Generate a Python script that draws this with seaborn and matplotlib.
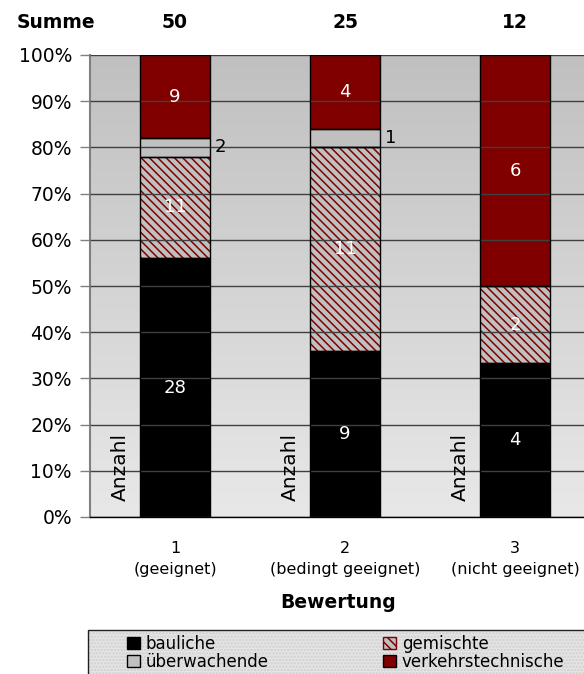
import numpy as np
import pandas as pd
import seaborn as sns
import matplotlib.pyplot as plt
from matplotlib.patches import Rectangle, Patch
from matplotlib.colors import LinearSegmentedColormap

# --- Daten ---
kategorien = ['1\n(geeignet)', '2\n(bedingt geeignet)', '3\n(nicht geeignet)']
summen = [50, 25, 12]
bauliche = [28, 9, 4]
gemischte = [11, 11, 2]
ueberwachende = [2, 1, 0]
verkehrstechnische = [9, 4, 6]

sns.set_theme(style='white', rc={'text.color': 'black', 'xtick.labelcolor': 'black',
                                 'ytick.labelcolor': 'black'})
plt.rcParams['font.family'] = ['DejaVu Sans']
plt.rcParams['hatch.linewidth'] = 1.1

df = pd.DataFrame({
    'Bewertung': kategorien,
    'summe': summen,
    'bauliche': bauliche,
    'gemischte': gemischte,
    'ueberwachende': ueberwachende,
    'verkehrstechnische': verkehrstechnische,
})
for col in ['bauliche', 'gemischte', 'ueberwachende', 'verkehrstechnische']:
    df['p_' + col] = 100 * df[col] / df['summe']

rot = '#800000'
grau = '#c0c0c0'
schraffur = '\\\\\\\\'

fig = plt.figure(figsize=(5.84, 6.74), dpi=100)
ax = fig.add_axes([90 / 584, 1 - 517 / 674, 510 / 584, 462 / 674])

# Hintergrund mit Verlauf
cmap = LinearSegmentedColormap.from_list('bg', [grau, '#e8e8e8'])
ax.imshow(np.linspace(0, 1, 256).reshape(-1, 1), cmap=cmap, aspect='auto',
          extent=[0, 1, 0, 1], transform=ax.transAxes, zorder=0)

# gestapelte Balken
schichten = [
    ('p_bauliche', 'black', None),
    ('p_gemischte', grau, schraffur),
    ('p_ueberwachende', grau, None),
    ('p_verkehrstechnische', rot, None),
]
unten = np.zeros(len(df))
for col, farbe, hatch in schichten:
    kw = dict(hatch=hatch, edgecolor=rot) if hatch else dict(edgecolor='black')
    sns.barplot(data=df, x='Bewertung', y=col, order=kategorien, color=farbe,
                saturation=1, width=0.41, bottom=unten, linewidth=0, ax=ax,
                errorbar=None, zorder=2, **kw)
    unten = unten + df[col].values

# schwarze Umrandung fuer alle Segmente
for cont in list(ax.containers):
    for bar in cont:
        if bar.get_height() > 0:
            ax.add_patch(Rectangle(bar.get_xy(), bar.get_width(), bar.get_height(),
                                   fill=False, edgecolor='black', lw=1, zorder=3))

# Beschriftungen
cont_baul, cont_gem, cont_ueb, cont_verk = ax.containers[:4]
for cont, werte in [(cont_baul, bauliche), (cont_gem, gemischte), (cont_verk, verkehrstechnische)]:
    ax.bar_label(cont, labels=[str(v) if v else '' for v in werte], label_type='center',
                 color='white', fontsize=13, zorder=4)
for bar, v in zip(cont_ueb, ueberwachende):
    if v:
        ax.text(bar.get_x() + bar.get_width() + 0.03, bar.get_y() + bar.get_height() / 2,
                str(v), ha='left', va='center', fontsize=13, color='black')

for i in range(len(kategorien)):
    ax.text(i - 0.32, 3.5, 'Anzahl', rotation=90, ha='center', va='bottom', fontsize=14.5)

# Achsen
ax.set_ylim(0, 100)
ax.set_xlim(-0.5, 2.5)
ax.set_yticks(np.arange(0, 101, 10))
ax.set_yticklabels([f'{v}%' for v in range(0, 101, 10)], fontsize=13.5)
ax.yaxis.grid(True, color='#404040', lw=1)
ax.set_axisbelow(False)
for gl in ax.get_ygridlines():
    gl.set_zorder(1)
ax.set_xticks([-0.5, 0.5, 1.5])
ax.set_xticklabels([])
ax.set_xticks(range(len(kategorien)), minor=True)
ax.set_xticklabels(kategorien, minor=True, fontsize=11.5, linespacing=1.55)
ax.tick_params(axis='x', which='major', length=6, width=1, color='#808080', direction='out')
ax.tick_params(axis='x', which='minor', length=0, pad=17)
ax.tick_params(axis='y', length=7, width=1, color='#808080', direction='out', left=True, pad=6)
ax.set_xlabel('')
ax.set_ylabel('')
sns.despine(ax=ax, top=True, right=True)
ax.spines['left'].set_color('#808080')
ax.spines['left'].set_linewidth(1.5)
ax.spines['bottom'].set_color('black')
ax.spines['bottom'].set_linewidth(1)
ax.spines['bottom'].set_zorder(5)

fig.text(338 / 584, 1 - 603 / 674, 'Bewertung', ha='center', va='center',
         fontsize=13.5, fontweight='bold')

# Kopfzeile Summe
fig.text(56 / 584, 1 - 22 / 674, 'Summe', ha='center', va='center', fontsize=13.5, fontweight='bold')
for i, s in enumerate(summen):
    x_fig = fig.transFigure.inverted().transform(ax.transData.transform((i, 0)))[0]
    fig.text(x_fig, 1 - 22 / 674, str(s), ha='center', va='center', fontsize=13.5, fontweight='bold')

# Legende
fig.patches.append(Rectangle((88 / 584, -0.05), 0.9, 1 - 630 / 674 + 0.05,
                             transform=fig.transFigure, facecolor='#e4e4e4',
                             hatch='.....', edgecolor='#cfcfcf', lw=0, zorder=0))
fig.patches.append(Rectangle((88 / 584, -0.05), 0.9, 1 - 630 / 674 + 0.05,
                             transform=fig.transFigure, fill=False,
                             edgecolor='#202020', lw=1, zorder=1))
handles = [
    Patch(facecolor='black', edgecolor='black', label='bauliche'),
    Patch(facecolor=grau, edgecolor='black', label='überwachende'),
    Patch(facecolor=grau, edgecolor=rot, hatch=schraffur, label='gemischte'),
    Patch(facecolor=rot, edgecolor='black', label='verkehrstechnische'),
]
fig.legend(handles=handles, ncol=2, loc='upper left',
           bbox_to_anchor=(127 / 584, 1 - 635 / 674), frameon=False, fontsize=12,
           handlelength=0.75, handleheight=0.75, handletextpad=0.35,
           labelspacing=0.0, columnspacing=6.9, borderpad=0, borderaxespad=0)

fig.savefig('out.png', dpi=100)
